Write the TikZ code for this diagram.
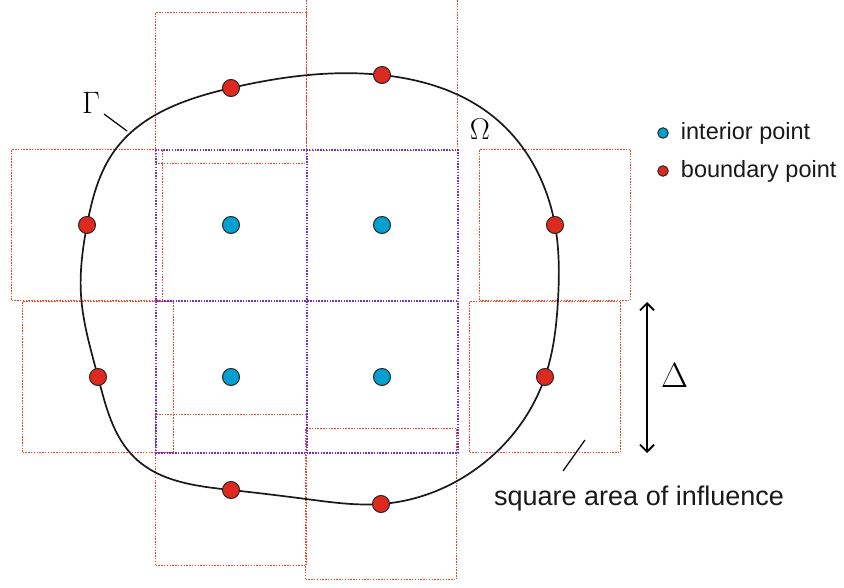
\documentclass[tikz,border=0pt]{standalone}
\usepackage{fontspec}
\newfontfamily\labelfont{Liberation Sans}
\definecolor{ptblue}{RGB}{0,160,210}
\definecolor{ptred}{RGB}{222,42,30}
\definecolor{sqred}{RGB}{240,70,40}
\definecolor{sqpurple}{RGB}{110,50,200}
\usetikzlibrary{arrows.meta, positioning, hobby}

\begin{document}
\begin{tikzpicture}[
    x=1pt, y=-1pt,
    influence/.style={rectangle, draw=sqred, line width=1.7pt,
                      dash pattern=on 1.5pt off 1.3pt,
                      minimum size=151pt, inner sep=0pt},
    cell/.style={draw=sqpurple, line width=1.7pt,
                 dash pattern=on 1.5pt off 1.3pt},
    ipoint/.style={circle, draw=black!85, line width=1pt, fill=ptblue,
                   minimum size=17pt, inner sep=0pt},
    bpoint/.style={circle, draw=black!85, line width=1pt, fill=ptred,
                   minimum size=17pt, inner sep=0pt},
    legdot/.style={circle, draw=black!85, line width=1pt,
                   minimum size=10.5pt, inner sep=0pt},
    legtext/.style={font=\labelfont\fontsize{23.5}{26}\selectfont,
                    inner sep=0pt, text=black!90},
    symb/.style={inner sep=0pt}
]
\useasboundingbox (0,0) rectangle (844,588);

% boundary points and their squares of influence
\coordinate (b1) at (87,225);
\coordinate (b2) at (231,88);
\coordinate (b3) at (382,75);
\coordinate (b4) at (555,225);
\coordinate (b5) at (545,377);
\coordinate (b6) at (381,504);
\coordinate (b7) at (231,490);
\coordinate (b8) at (98,377);
\foreach \p in {b1,b2,b3,b4,b5,b6,b7,b8}
    \node[influence] at (\p) {};

% grid of interior cells
\draw[cell] (156,150) rectangle (458,453);
\draw[cell] (307,150) -- (307,453);
\draw[cell] (156,301) -- (458,301);

% boundary curve
\draw[line width=1.7pt, black!90, use Hobby shortcut, closed=true]
    (b1) .. (115,150) .. (b2) .. (b3) .. (495,118) .. (b4) .. (558,300)
    .. (b5) .. (480,466) .. (b6) .. (306,499) .. (b7) .. (135,458)
    .. (b8) .. (81,295);

% points
\node[ipoint] (i1) at (231,225) {};
\node[ipoint] (i2) at (382,225) {};
\node[ipoint] (i3) at (231,377) {};
\node[ipoint] (i4) at (382,377) {};
\foreach \p in {b1,b2,b3,b4,b5,b6,b7,b8}
    \node[bpoint] at (\p) {};

% labels
\node[symb, font=\fontsize{31}{32}\selectfont] (gam) at (91,103) {Γ};
\coordinate (gfrom) at (104,114);
\coordinate (gto) at (127,131);
\draw[line width=1.2pt] (gfrom) -- (gto);
\node[symb, font=\fontsize{30}{32}\selectfont] (omg) at (480,129) {Ω};

% legend
\node[legdot, fill=ptblue] (li) at (663,133) {};
\node[legtext, right=12pt of li] (lit) {interior point};
\node[legdot, fill=ptred] (lb) at (663,171) {};
\node[legtext, right=12pt of lb] (lbt) {boundary point};

% size of a square
\coordinate (dtop) at (647,302);
\coordinate (dbot) at (647,453);
\draw[line width=1.8pt, {Straight Barb[length=7pt,width=14pt]}-{Straight Barb[length=7pt,width=14pt]}]
    (dtop) -- (dbot);
\node[symb, font=\fontsize{35}{36}\selectfont] (del) at (675,375) {Δ};

% pointer to a square
\node[legtext, anchor=west, font=\labelfont\fontsize{27}{30}\selectfont]
    (sqa) at (494,499) {square area of influence};
\coordinate (sfrom) at (585,440);
\coordinate (sto) at (563,471);
\draw[line width=1.2pt] (sfrom) -- (sto);
\end{tikzpicture}
\end{document}
